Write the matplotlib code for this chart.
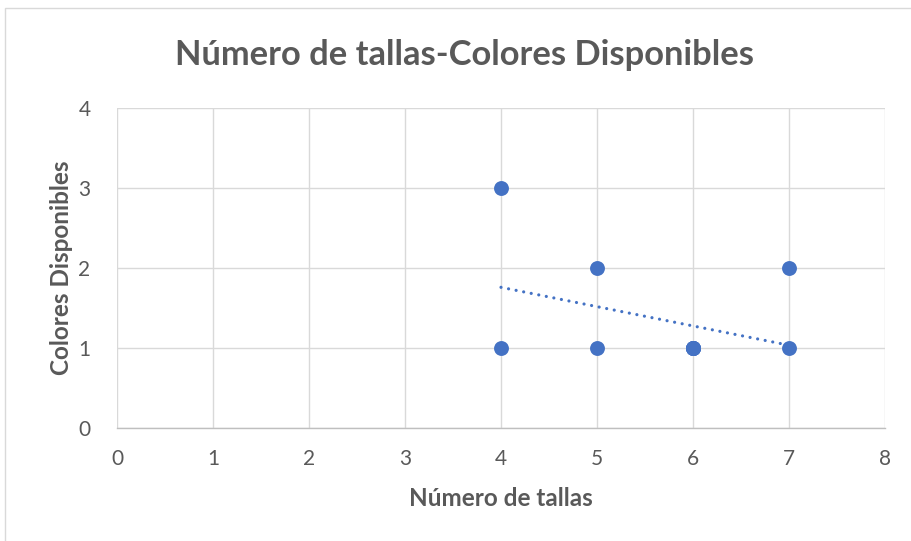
import numpy as np
import matplotlib.pyplot as plt
from matplotlib.patches import Rectangle

# tallas vs colores (repeated points overlap, e.g. 6 tallas / 1 color)
tallas = [4, 4, 5, 5, 6, 6, 6, 6, 6, 7, 7]
colores = [3, 1, 2, 1, 1, 1, 1, 1, 1, 2, 1]

title = 'Número de tallas-Colores Disponibles'
xlabel = 'Número de tallas'
ylabel = 'Colores Disponibles'

blue = '#4472C4'
gray_txt = '#595959'

plt.rcParams['font.family'] = ['Lato', 'DejaVu Sans']

fig = plt.figure(figsize=(9.12, 5.41), dpi=100)
ax = fig.add_axes([117 / 912, 1 - 428 / 541, 768 / 912, 320 / 541])

# chart frame (only top/left visible in the crop)
fig.patches.append(Rectangle((5 / 912, -0.1), 1.2, 1 - 8 / 541 + 0.1, transform=fig.transFigure,
                             fill=False, edgecolor='#d9d9d9', linewidth=1.0))

ax.scatter(tallas, colores, s=115, color=blue, zorder=3, linewidths=0)

# linear trendline
m, b = np.polyfit(tallas, colores, 1)
xt = np.array([min(tallas), max(tallas)])
ax.plot(xt, m * xt + b, color=blue, linewidth=2.3, linestyle=(0, (0.01, 2.4)),
        dash_capstyle='round', zorder=2)

ax.set_xlim(0, 8)
ax.set_ylim(0, 4)
ax.set_xticks(range(0, 9))
ax.set_yticks(range(0, 5))
ax.grid(True, color='#d9d9d9', linewidth=1.0)
ax.set_axisbelow(True)
for s in ['top', 'right', 'left']:
    ax.spines[s].set_visible(False)
ax.spines['bottom'].set_color('#bfbfbf')
ax.spines['bottom'].set_linewidth(1.0)
ax.tick_params(length=0, labelsize=15, labelcolor=gray_txt)
ax.tick_params(axis='x', pad=15)
ax.tick_params(axis='y', pad=19)

ax.set_xlabel(xlabel, fontsize=17.5, fontweight='bold', color=gray_txt, labelpad=13)
ax.set_ylabel(ylabel, fontsize=17.5, fontweight='bold', color=gray_txt, labelpad=4)
fig.text(465 / 912, 1 - 55 / 541, title, fontsize=24.8, fontweight='bold', color=gray_txt,
         ha='center', va='center')

fig.savefig('out.png', dpi=100)
